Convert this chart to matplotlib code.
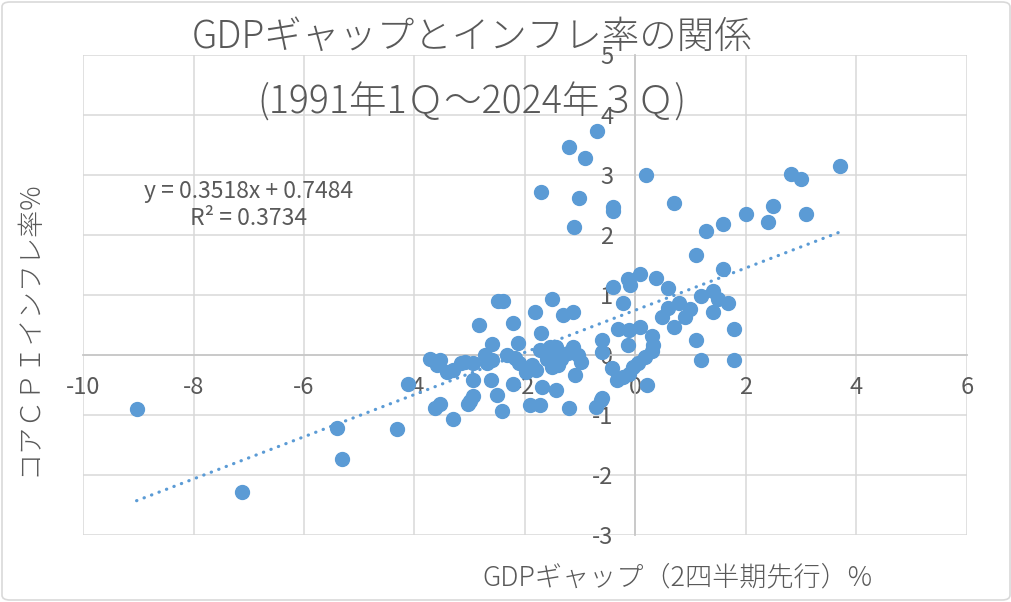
import matplotlib
matplotlib.use("Agg")
import matplotlib.pyplot as plt
from matplotlib.patches import FancyBboxPatch
import numpy as np

plt.rcParams['font.family'] = ['Noto Sans CJK JP', 'DejaVu Sans']
plt.rcParams['axes.unicode_minus'] = False

# GDP gap (2 quarters lead) and core CPI inflation
gdp_gap = [
    -9.03, -7.13, -5.41, -5.31, -4.32, -4.12,
    -3.72, -3.54, -3.60, -3.42, -3.30, -3.15, -3.09, -2.94, -2.72, -2.60, -2.69, -2.60,
    -2.32, -2.18, -2.11, -2.13,
    -2.94, -2.62, -2.22, -1.70, -2.51, -2.94, -2.99, -3.04, -3.54, -3.63, -1.91, -1.73,
    -2.42, -3.31, -1.43, -1.21, -0.71, -0.62,
    -2.49, -2.40, -1.52, -1.81, -1.32, -1.13, -2.84, -2.22, -1.71,
    -1.73, -1.55, -1.43, -1.13, -1.61, -1.49, -1.34, -1.22, -1.04, -0.98, -1.52, -1.40,
    -1.88, -1.99, -1.80, -1.10,
    -0.70, -1.20, -0.91, -1.71, -1.02, -0.41, -0.41, -1.11, 0.19, 0.70,
    -0.40, -0.13, -0.10, 0.08, 0.38, 0.58, -0.22,
    0.59, 0.79, 0.99, 0.48, 0.90, 0.70,
    1.19, 1.41, 1.50, 1.68, 1.40, 1.79, 1.09, 1.19, 1.79,
    1.09, 1.59, 1.28, 1.59, 2.00, 2.39, 2.48, 3.09, 2.81, 2.99, 3.70,
    -0.31, -0.11, 0.08, -0.13, -0.61, -0.61,
    0.29, 0.32, 0.30, 0.17, 0.05, -0.04, -0.12, -0.22, -0.34, -0.42, 0.20, -0.61,
]
core_cpi = [
    -0.90, -2.29, -1.22, -1.74, -1.23, -0.49,
    -0.06, -0.08, -0.17, -0.28, -0.25, -0.14, -0.11, -0.14, 0.00, -0.08, -0.14, 0.19,
    0.00, -0.05, -0.13, 0.20,
    -0.42, -0.42, -0.48, -0.53, -0.67, -0.69, -0.76, -0.82, -0.81, -0.89, -0.83, -0.83,
    -0.94, -1.07, -0.58, -0.89, -0.86, -0.75,
    0.905, 0.905, 0.93, 0.72, 0.67, 0.72, 0.50, 0.53, 0.37,
    0.08, 0.14, 0.14, 0.14, -0.06, -0.03, -0.06, 0.03, 0.00, -0.11, -0.20, -0.17,
    -0.17, -0.28, -0.25, -0.33,
    3.74, 3.46, 3.28, 2.72, 2.61, 2.47, 2.40, 2.13, 3.00, 2.54,
    1.13, 1.26, 1.17, 1.35, 1.29, 1.11, 0.87,
    0.79, 0.87, 0.77, 0.63, 0.64, 0.46,
    0.99, 1.06, 0.94, 0.86, 0.72, 0.43, 0.25, -0.09, -0.09,
    1.66, 1.43, 2.06, 2.19, 2.35, 2.21, 2.48, 2.35, 3.02, 2.94, 3.15,
    0.43, 0.41, 0.47, 0.17, 0.25, 0.05,
    0.31, 0.17, 0.07, -0.04, -0.14, -0.20, -0.31, -0.36, -0.41, -0.21, -0.50, -0.72,
]

# linear trendline shown on the chart
slope = 0.3518
intercept = 0.7484
r2 = 0.3734

x_ticks = [-10, -8, -6, -4, -2, 0, 2, 4, 6]
y_ticks = [-3, -2, -1, 0, 1, 2, 3, 4, 5]

title1 = "GDPギャップとインフレ率の関係"
title2 = "(1991年1Ｑ～2024年３Ｑ)"
xlab = "GDPギャップ（2四半期先行）%"
ylab = "コアＣＰＩインフレ率%"

blue = '#5b9bd5'
grey = '#595959'
grid_c = '#d9d9d9'

fig = plt.figure(figsize=(10.12, 6.02), dpi=100)
ax = fig.add_axes([83 / 1012, 1 - 535 / 602, 884 / 1012, 480 / 602])

ax.set_xlim(-10, 6)
ax.set_ylim(-3, 5)
ax.set_xticks(x_ticks)
ax.set_yticks(y_ticks)
ax.grid(True, color=grid_c, linewidth=1.1)
ax.set_axisbelow(True)

for s in ['top', 'right']:
    ax.spines[s].set_visible(False)
ax.spines['left'].set_position(('data', 0))
ax.spines['bottom'].set_position(('data', 0))
for s in ['left', 'bottom']:
    ax.spines[s].set_color('#c8c8c8')
    ax.spines[s].set_linewidth(1.3)

ax.tick_params(axis='both', length=0, labelsize=17, labelcolor=grey)
ax.tick_params(axis='x', pad=15)
ax.tick_params(axis='y', pad=16)

ax.scatter(gdp_gap, core_cpi, s=100, color=blue, edgecolors=blue, zorder=3)

xs = np.array([min(gdp_gap), max(gdp_gap)])
ax.plot(xs, slope * xs + intercept, color=blue, linewidth=2.3,
        linestyle=(0, (0.1, 2.4)), dash_capstyle='round', zorder=4)

ax.text(-7.0, 2.5, f"y = {slope}x + {intercept}\nR² = {r2}", fontsize=16.5,
        color=grey, ha='center', va='center', linespacing=1.2)

fig.text(472 / 1012, 1 - 37 / 602, title1, fontsize=27, color=grey, ha='center', va='center',
         fontweight='light')
fig.text(472 / 1012, 1 - 103 / 602, title2, fontsize=27, color=grey, ha='center', va='center',
         fontweight='light')
fig.text(677 / 1012, 1 - 577 / 602, xlab, fontsize=19.5, color=grey, ha='center', va='center',
         fontweight='light')
fig.text(28 / 1012, 1 - 328 / 602, ylab, fontsize=19.5, color=grey, ha='center', va='center',
         rotation=90, fontweight='light')

border = FancyBboxPatch((2 / 1012, 2 / 602), 1008 / 1012, 598 / 602,
                        boxstyle='round,pad=0,rounding_size=0.008', transform=fig.transFigure,
                        facecolor='none', edgecolor=grid_c, linewidth=1.2)
fig.patches.append(border)

fig.savefig('out.png', dpi=100)
